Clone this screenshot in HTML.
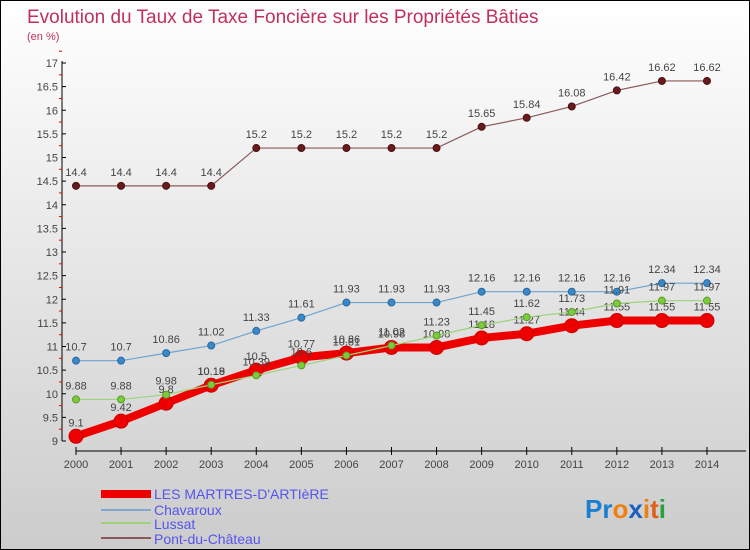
<!DOCTYPE html>
<html><head><meta charset="utf-8"><style>
body{margin:0}
#c{width:750px;height:550px;position:relative;overflow:hidden;background:linear-gradient(#fff,#ccc);border:1px solid #000;box-sizing:border-box;font-family:"Liberation Sans",sans-serif}
</style></head><body>
<div id="c">
<svg id="s" width="750" height="550" xmlns="http://www.w3.org/2000/svg" style="position:absolute;left:0;top:0">
<text x="26" y="22" font-size="19" fill="#c0305a">Evolution du Taux de Taxe Foncière sur les Propriétés Bâties</text>
<text x="26" y="39" font-size="11" fill="#c0305a">(en %)</text>
<g id="axes"></g><g id="series"></g>
<g font-size="14" fill="#5555ee">
<rect x="100" y="489" width="50" height="8" fill="#e00"/><text x="153" y="498">LES MARTRES-D'ARTIèRE</text>
<rect x="100" y="508" width="50" height="2" fill="#7fa8cc"/><text x="153" y="514">Chavaroux</text>
<rect x="100" y="521" width="50" height="2" fill="#9dd37a"/><text x="153" y="528">Lussat</text>
<rect x="100" y="536" width="50" height="2" fill="#8a5a5a"/><text x="153" y="543">Pont-du-Château</text>
</g>
<g font-size="26" font-weight="bold">
<text x="584" y="517"><tspan fill="#1a7fd0">Pr</tspan><tspan fill="#f07f10">o</tspan><tspan fill="#1a5fc0">x</tspan><tspan fill="#f07f10">i</tspan><tspan fill="#e0601a">t</tspan><tspan fill="#2aa040">i</tspan></text>
</g>
</svg>
</div>
<script>
const years=[2000,2001,2002,2003,2004,2005,2006,2007,2008,2009,2010,2011,2012,2013,2014];
const yTicks=[9,9.5,10,10.5,11,11.5,12,12.5,13,13.5,14,14.5,15,15.5,16,16.5,17];
const martres=[9.1,9.42,9.8,10.18,10.5,10.77,10.86,10.98,10.98,11.18,11.27,11.44,11.55,11.55,11.55];
const chavaroux=[10.7,10.7,10.86,11.02,11.33,11.61,11.93,11.93,11.93,12.16,12.16,12.16,12.16,12.34,12.34];
const lussat=[9.88,9.88,9.98,10.19,10.39,10.6,10.81,11.02,11.23,11.45,11.62,11.73,11.91,11.97,11.97];
const pont=[14.4,14.4,14.4,14.4,15.2,15.2,15.2,15.2,15.2,15.65,15.84,16.08,16.42,16.62,16.62];
const NS="http://www.w3.org/2000/svg";
const X=i=>75+i*45.07, Y=v=>440-(v-9)*47.25;
function mk(p,t,a){const e=document.createElementNS(NS,t);for(const k in a)e.setAttribute(k,a[k]);p.appendChild(e);return e;}
const ax=document.getElementById('axes');
let e=mk(ax,'line',{x1:61,y1:60,x2:61,y2:440,stroke:'#000'});


e=mk(ax,'line',{x1:75,y1:450,x2:745,y2:450,stroke:'#000'});


yTicks.forEach(v=>{
 mk(ax,'line',{x1:61,y1:Y(v),x2:65,y2:Y(v),stroke:'#000'});
 mk(ax,'line',{x1:58,y1:Y(v+0.25),x2:61,y2:Y(v+0.25),stroke:'#e00'});
 const t=mk(ax,'text',{x:57,y:Y(v)+4,'font-size':11,'text-anchor':'end',fill:'#444'});t.textContent=v;
 
 
});
years.forEach((y,i)=>{
 mk(ax,'line',{x1:X(i),y1:446,x2:X(i),y2:454,stroke:'#000'});
 const t=mk(ax,'text',{x:X(i),y:467,'font-size':11,'text-anchor':'middle',fill:'#444'});t.textContent=y;
 
 
});
const sg=document.getElementById('series');
function series(name,data,color,w,r,dot,dotStroke){
 const g=mk(sg,'g',{});
 
 
 mk(g,'polyline',{points:data.map((v,i)=>X(i)+','+Y(v)).join(' '),fill:'none',stroke:color,'stroke-width':w});
 data.forEach((v,i)=>{
  const c=mk(g,'circle',{cx:X(i),cy:Y(v),r:r,fill:dot,stroke:dotStroke,'stroke-width':1});
  
  
  const t=mk(g,'text',{x:X(i),y:Y(v)-10,'font-size':11,'text-anchor':'middle',fill:'#444'});t.textContent=v;
 });
}
series('pont-du-chateau-series',pont,'#8a5a5a',1.2,3.5,'#6a1a1a','#4a1010');
series('chavaroux-series',chavaroux,'#6ea3cf',1.2,3.5,'#3a88c8','#2a6aa0');
series('martres-series',martres,'#ee0000',8,7,'#ee0000','#c00');
series('lussat-series',lussat,'#9dd37a',1.2,3.5,'#7acc3a','#5a9a2a');
</script>
</body></html>
